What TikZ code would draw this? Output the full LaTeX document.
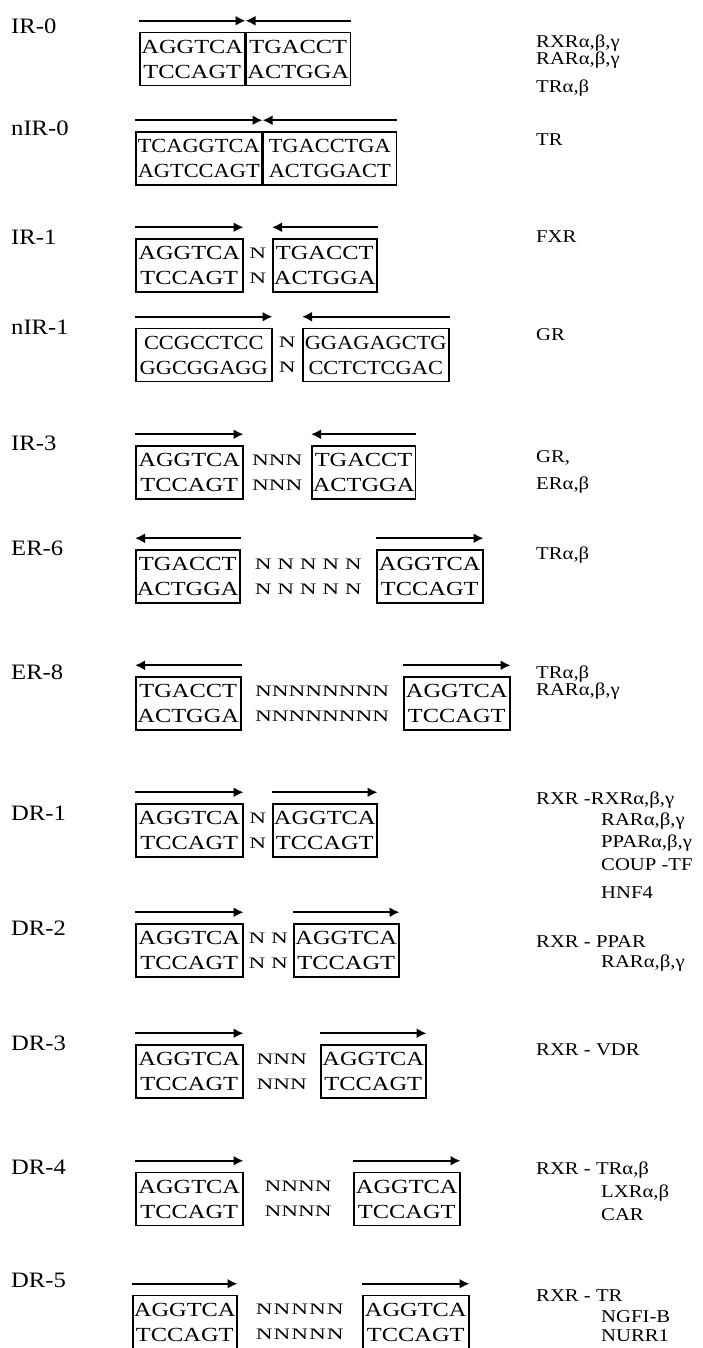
\documentclass[tikz,border=0pt]{standalone}
\usepackage{fontspec}
\setmainfont{Liberation Serif}
\newfontfamily\seqfam[FakeStretch=1.22]{Liberation Serif}
\newfontfamily\seqfamn[FakeStretch=1.12]{Liberation Serif}
\newfontfamily\nfam[FakeStretch=1.45]{Liberation Serif}
\newfontfamily\nfamw[FakeStretch=1.45,LetterSpace=6]{Liberation Serif}
\newfontfamily\labfam[FakeStretch=1.12]{Liberation Serif}
\newfontfamily\recfam[FakeStretch=1.15]{Liberation Serif}
\usetikzlibrary{arrows.meta,calc}
\begin{document}
\begin{tikzpicture}[x=1pt,y=-1pt,
  seqbox/.style={draw, line width=1.5pt, inner xsep=1pt, inner ysep=0pt, minimum height=53pt, align=center, font=\seqfam\fontsize{20}{25}\selectfont, anchor=west},
  seqboxn/.style={seqbox, font=\seqfamn\fontsize{20}{25}\selectfont},
  nsp/.style={inner sep=0pt, align=center, font=\nfam\fontsize{16}{25}\selectfont},
  nspw/.style={inner sep=0pt, align=center, font=\nfamw\fontsize{16}{25}\selectfont},
  lab/.style={anchor=west, inner sep=0pt, font=\labfam\fontsize{22}{24}\selectfont},
  rec/.style={anchor=west, inner sep=0pt, font=\recfam\fontsize{18}{20}\selectfont},
  arr/.style={line width=2pt, -{Latex[length=10pt,width=10pt]}},
]
\fill[white] (0,0) rectangle (702,1348);
\useasboundingbox (0,0) rectangle (702,1348);

% ---------- IR-0
\node[lab] (l1) at (11,26) {IR-0};
\node[seqbox, minimum width=105pt] (a1) at (139,59) {AGGTCA\\TCCAGT};
\node[seqbox, minimum width=104pt] (a2) at (a1.east) {TGACCT\\ACTGGA};
\draw[arr] ([yshift=11pt]a1.north west) -- ([yshift=11pt]a1.north east);
\draw[arr] ([yshift=11pt]a2.north east) -- ([yshift=11pt]a2.north west);
\node[rec] (r1a) at (536,43) {RXRα,β,γ};
\node[rec] (r1b) at (536,60) {RARα,β,γ};
\node[rec] (r1c) at (536,88) {TRα,β};

% ---------- nIR-0
\node[lab] (l2) at (11,128) {nIR-0};
\node[seqboxn, minimum width=126pt] (b1) at (135,158.5) {TCAGGTCA\\AGTCCAGT};
\node[seqboxn, minimum width=133pt] (b2) at (b1.east) {TGACCTGA\\ACTGGACT};
\draw[arr] ([yshift=11pt]b1.north west) -- ([yshift=11pt]b1.north east);
\draw[arr] ([yshift=11pt]b2.north east) -- ([yshift=11pt]b2.north west);
\node[rec] (r2a) at (536,140) {TR};

% ---------- IR-1
\node[lab] (l3) at (11,237) {IR-1};
\node[seqbox, minimum width=107pt] (c1) at (135,265.5) {AGGTCA\\TCCAGT};
\node[seqbox, minimum width=104pt] (c2) at (272,265.5) {TGACCT\\ACTGGA};
\node[nsp] (cn) at ($(c1.east)!0.5!(c2.west)$) {N\\N};
\draw[arr] ([yshift=11pt]c1.north west) -- ([yshift=11pt]c1.north east);
\draw[arr] ([yshift=11pt]c2.north east) -- ([yshift=11pt]c2.north west);
\node[rec] (r3a) at (536,237) {FXR};

% ---------- nIR-1
\node[lab] (l4) at (11,327) {nIR-1};
\node[seqboxn, minimum width=136pt] (d1) at (135,355) {CCGCCTCC\\GGCGGAGG};
\node[seqboxn, minimum width=146pt] (d2) at (302,355) {GGAGAGCTG\\CCTCTCGAC};
\node[nsp] (dn) at ($(d1.east)!0.5!(d2.west)$) {N\\N};
\draw[arr] ([yshift=11pt]d1.north west) -- ([yshift=11pt]d1.north east);
\draw[arr] ([yshift=11pt]d2.north east) -- ([yshift=11pt]d2.north west);
\node[rec] (r4a) at (536,335) {GR};

% ---------- IR-3
\node[lab] (l5) at (11,443) {IR-3};
\node[seqbox, minimum width=107pt] (e1) at (135,472.5) {AGGTCA\\TCCAGT};
\node[seqbox, minimum width=103pt] (e2) at (311,472.5) {TGACCT\\ACTGGA};
\node[nsp] (en) at ($(e1.east)!0.5!(e2.west)$) {NNN\\NNN};
\draw[arr] ([yshift=11pt]e1.north west) -- ([yshift=11pt]e1.north east);
\draw[arr] ([yshift=11pt]e2.north east) -- ([yshift=11pt]e2.north west);
\node[rec] (r5a) at (536,458) {GR,};
\node[rec] (r5b) at (536,485) {ERα,β};

% ---------- ER-6
\node[lab] (l6) at (11,548) {ER-6};
\node[seqbox, minimum width=104pt] (f1) at (135,576.5) {TGACCT\\ACTGGA};
\node[seqbox, minimum width=106pt] (f2) at (376,576.5) {AGGTCA\\TCCAGT};
\node[nsp] (fn) at ($(f1.east)!0.5!(f2.west)$) {N N N N N\\N N N N N};
\draw[arr] ([yshift=11pt]f1.north east) -- ([yshift=11pt]f1.north west);
\draw[arr] ([yshift=11pt]f2.north west) -- ([yshift=11pt]f2.north east);
\node[rec] (r6a) at (536,555) {TRα,β};

% ---------- ER-8
\node[lab] (l7) at (11,672) {ER-8};
\node[seqbox, minimum width=105pt] (g1) at (135,703.5) {TGACCT\\ACTGGA};
\node[seqbox, minimum width=106pt] (g2) at (403,703.5) {AGGTCA\\TCCAGT};
\node[nsp] (gn) at ($(g1.east)!0.5!(g2.west)$) {NNNNNNNN\\NNNNNNNN};
\draw[arr] ([yshift=11pt]g1.north east) -- ([yshift=11pt]g1.north west);
\draw[arr] ([yshift=11pt]g2.north west) -- ([yshift=11pt]g2.north east);
\node[rec] (r7a) at (536,674) {TRα,β};
\node[rec] (r7b) at (536,691) {RARα,β,γ};

% ---------- DR-1
\node[lab] (l8) at (11,813) {DR-1};
\node[seqbox, minimum width=107pt] (h1) at (135,830.5) {AGGTCA\\TCCAGT};
\node[seqbox, minimum width=104pt] (h2) at (272,830.5) {AGGTCA\\TCCAGT};
\node[nsp] (hn) at ($(h1.east)!0.5!(h2.west)$) {N\\N};
\draw[arr] ([yshift=11pt]h1.north west) -- ([yshift=11pt]h1.north east);
\draw[arr] ([yshift=11pt]h2.north west) -- ([yshift=11pt]h2.north east);
\node[rec] (r8a) at (536,800) {RXR -RXRα,β,γ};
\node[rec] (r8b) at (601,821) {RARα,β,γ};
\node[rec] (r8c) at (601,843) {PPARα,β,γ};
\node[rec] (r8d) at (601,865) {COUP -TF};
\node[rec] (r8e) at (601,893) {HNF4};

% ---------- DR-2
\node[lab] (l9) at (11,928) {DR-2};
\node[seqbox, minimum width=107pt] (i1) at (135,950.5) {AGGTCA\\TCCAGT};
\node[seqbox, minimum width=105pt] (i2) at (293,950.5) {AGGTCA\\TCCAGT};
\node[nsp] (in) at ($(i1.east)!0.5!(i2.west)$) {N N\\N N};
\draw[arr] ([yshift=11pt]i1.north west) -- ([yshift=11pt]i1.north east);
\draw[arr] ([yshift=11pt]i2.north west) -- ([yshift=11pt]i2.north east);
\node[rec] (r9a) at (536,942) {RXR - PPAR};
\node[rec] (r9b) at (601,963) {RARα,β,γ};

% ---------- DR-3
\node[lab] (l10) at (11,1043) {DR-3};
\node[seqbox, minimum width=107pt] (j1) at (135,1071.5) {AGGTCA\\TCCAGT};
\node[seqbox, minimum width=105pt] (j2) at (320,1071.5) {AGGTCA\\TCCAGT};
\node[nsp] (jn) at ($(j1.east)!0.5!(j2.west)$) {NNN\\NNN};
\draw[arr] ([yshift=11pt]j1.north west) -- ([yshift=11pt]j1.north east);
\draw[arr] ([yshift=11pt]j2.north west) -- ([yshift=11pt]j2.north east);
\node[rec] (r10a) at (536,1050) {RXR - VDR};

% ---------- DR-4
\node[lab] (l11) at (11,1167) {DR-4};
\node[seqbox, minimum width=107pt] (k1) at (135,1199) {AGGTCA\\TCCAGT};
\node[seqbox, minimum width=106pt] (k2) at (353,1199) {AGGTCA\\TCCAGT};
\node[nsp] (kn) at ($(k1.east)!0.5!(k2.west)$) {NNNN\\NNNN};
\draw[arr] ([yshift=11pt]k1.north west) -- ([yshift=11pt]k1.north east);
\draw[arr] ([yshift=11pt]k2.north west) -- ([yshift=11pt]k2.north east);
\node[rec] (r11a) at (536,1170) {RXR - TRα,β};
\node[rec] (r11b) at (601,1193) {LXRα,β};
\node[rec] (r11c) at (601,1215) {CAR};

% ---------- DR-5
\node[lab] (l12) at (11,1280) {DR-5};
\node[seqbox, minimum width=104pt] (m1) at (132,1322) {AGGTCA\\TCCAGT};
\node[seqbox, minimum width=106pt] (m2) at (362,1322) {AGGTCA\\TCCAGT};
\node[nspw] (mn) at ($(m1.east)!0.5!(m2.west)$) {NNNNN\\NNNNN};
\draw[arr] ([yshift=11pt]m1.north west) -- ([yshift=11pt]m1.north east);
\draw[arr] ([yshift=11pt]m2.north west) -- ([yshift=11pt]m2.north east);
\node[rec] (r12a) at (536,1296) {RXR - TR};
\node[rec] (r12b) at (601,1317) {NGFI-B};
\node[rec] (r12c) at (601,1336) {NURR1};
\end{tikzpicture}
\end{document}
